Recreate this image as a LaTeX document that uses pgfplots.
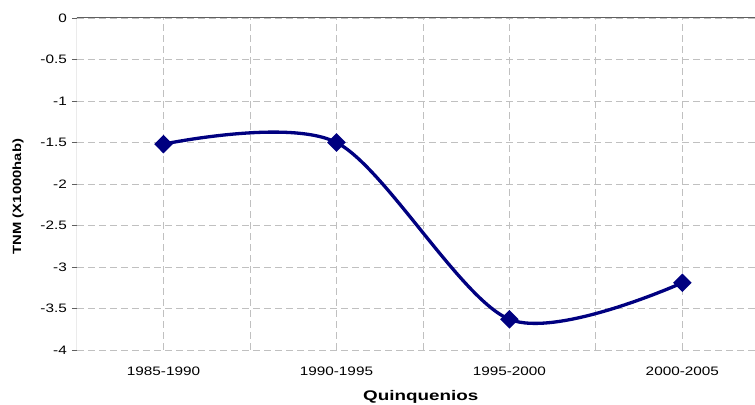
\documentclass[border=0pt]{standalone}
\usepackage{fontspec}
\setmainfont{Liberation Sans}[FakeStretch=1.25]
\newfontfamily\labfont{Liberation Sans}[FakeStretch=1.35]
\newfontfamily\ylabfont{Liberation Sans}[FakeStretch=1.25]
\usepackage{pgfplots}
\pgfplotsset{compat=1.18}
\definecolor{serie}{RGB}{0,0,128}
\definecolor{rejilla}{RGB}{192,192,192}
\definecolor{eje}{RGB}{95,95,95}

\begin{document}
\begin{tikzpicture}
\begin{axis}[
  scale only axis, width=678bp, height=332bp,
  xmin=0.5, xmax=4.42, ymin=-4, ymax=0,
  xtick={1,2,3,4},
  xticklabels={1985-1990,1990-1995,1995-2000,2000-2005},
  minor xtick={1.5,2.5,3.5},
  ytick={-4,-3.5,-3,-2.5,-2,-1.5,-1,-0.5,0},
  yticklabels={-4,-3.5,-3,-2.5,-2,-1.5,-1,-0.5,0},
  xmajorgrids, xminorgrids, ymajorgrids,
  major grid style={rejilla, line width=0.8bp, dash pattern=on 7bp off 4bp},
  minor grid style={rejilla, line width=0.8bp, dash pattern=on 7bp off 4bp},
  axis line style={draw=none},
  x tick style={draw=none}, minor x tick style={draw=none},
  ytick pos=left, tick align=outside, major tick length=5bp,
  y tick style={eje, line width=0.8bp},
  tick label style={font=\fontsize{12.3}{14}\selectfont},
  xticklabel style={inner sep=0pt, yshift=-12bp},
  yticklabel style={inner sep=0pt, xshift=-5bp},
  xlabel={Quinquenios}, ylabel={TNM (X1000hab)},
  every axis x label/.style={at={(rel axis cs:0.507,-0.1536)}, anchor=base,
    font=\labfont\bfseries\fontsize{14}{16}\selectfont},
  every axis y label/.style={at={(rel axis cs:-0.087,0.462)}, anchor=center, rotate=90,
    font=\ylabfont\bfseries\fontsize{11.9}{15}\selectfont},
]
\draw[eje, line width=1bp] (rel axis cs:0,0) -- (rel axis cs:0,1) -- (rel axis cs:1,1);
\coordinate (bl) at (rel axis cs:0,0);
\coordinate (tr) at (rel axis cs:1,1);
\addplot[serie, line width=3.3bp, smooth, mark=diamond*, mark size=7bp,
  mark options={xscale=1.33, solid}]
  coordinates {(1,-1.52) (2,-1.50) (3,-3.63) (4,-3.19)};
\end{axis}
\pgfresetboundingbox
\path[use as bounding box] ([shift={(-77bp,-55bp)}]bl) rectangle ([shift={(0bp,18bp)}]tr);
\end{tikzpicture}
\end{document}
